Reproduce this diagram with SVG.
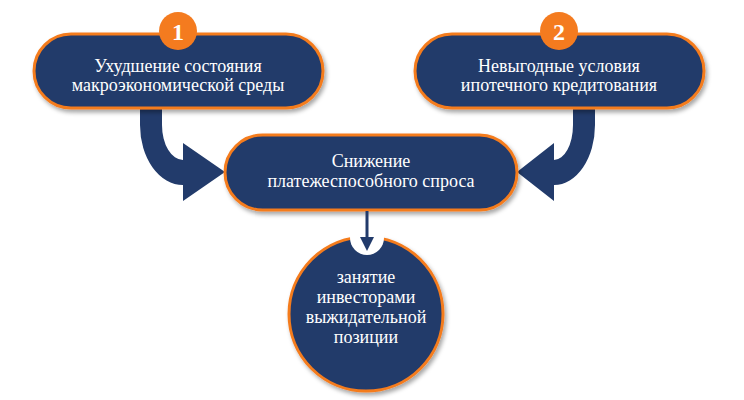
<svg xmlns="http://www.w3.org/2000/svg" width="744" height="400" viewBox="0 0 744 400">
<defs>
<filter id="sh" x="-10%" y="-20%" width="130%" height="150%">
<feDropShadow dx="2" dy="3" stdDeviation="2" flood-color="#000" flood-opacity="0.35"/>
</filter>
</defs>
<style>
.box{fill:#223B6B;stroke:#F47B1F;stroke-width:3;filter:url(#sh)}
.badge{fill:#F47B1F}
text{font-family:'Liberation Serif','Times New Roman',serif;fill:#fff;text-anchor:middle;font-size:18px}
.n{font-size:24px;font-weight:bold}
.arr{fill:#223B6B}
</style>
<rect width="744" height="400" fill="#fff"/>
<g id="connectors">
<path class="arr" d="M140,100 L140,125 A43,60 0 0 0 183,185 L183,201 L225,172 L183,143 L183,160 A21,35 0 0 1 162,125 L162,100 Z"/>
<path class="arr" d="M595,100 L595,125 A41,60 0 0 1 554,185 L554,201 L517,172 L554,143 L554,160 A19,35 0 0 0 573,125 L573,100 Z"/>
</g>
<g id="node1">
<rect class="box" x="34" y="34" width="289" height="74" rx="37"/>
<circle class="badge" cx="178" cy="31" r="19"/>
<text class="n" x="178" y="40">1</text>
<text x="178" y="72">Ухудшение состояния</text>
<text x="178" y="91">макроэкономической среды</text>
</g>
<g id="node2">
<rect class="box" x="415" y="34" width="289" height="74" rx="37"/>
<circle class="badge" cx="559" cy="31" r="19"/>
<text class="n" x="559" y="40">2</text>
<text x="559" y="72">Невыгодные условия</text>
<text x="559" y="91">ипотечного кредитования</text>
</g>
<g id="node3">
<rect class="box" x="225" y="135" width="292" height="75" rx="37.5"/>
<text x="371" y="167">Снижение</text>
<text x="371" y="187">платежеспособного спроса</text>
</g>
<g id="node4">
<circle class="box" cx="366" cy="314" r="77"/>
<circle cx="367" cy="238" r="17" fill="#fff"/>
<text x="366" y="283">занятие</text>
<text x="366" y="303">инвесторами</text>
<text x="366" y="323">выжидательной</text>
<text x="366" y="343">позиции</text>
</g>
<g id="connector-down">
<line x1="367" y1="211" x2="367" y2="240" stroke="#223B6B" stroke-width="3"/>
<path d="M360,237 L374,237 L367,251 Z" fill="#223B6B"/>
</g>
</svg>
